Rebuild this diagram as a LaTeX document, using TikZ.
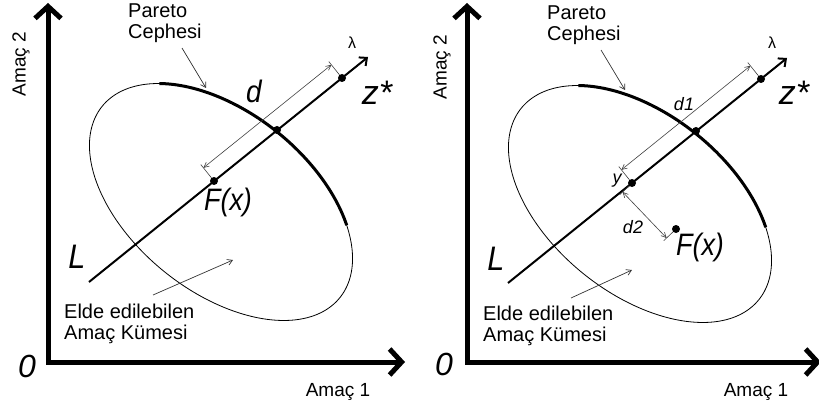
\documentclass[tikz,border=0pt]{standalone}
\usepackage{fontspec}
\usepackage{graphicx}
\setmainfont{Liberation Sans}
\usetikzlibrary{arrows.meta,calc}
\newcommand{\cond}[2]{\scalebox{#1}[1]{#2}}
\tikzset{
  axisline/.style={line width=5pt, line join=miter,
    {Straight Barb[length=12pt,width=26pt]}-{Straight Barb[length=12pt,width=26pt]}},
  lline/.style={line width=2pt, -{Straight Barb[length=6pt,width=11pt]}},
  dot/.style={circle, fill=black, inner sep=0pt, minimum size=8pt},
  small/.style={font=\fontsize{19}{21}\selectfont, align=left, inner sep=0pt},
  note/.style={font=\fontsize{20}{21}\selectfont, align=left, inner sep=0pt},
  big/.style={font=\fontsize{31}{33}\selectfont\itshape, inner sep=0pt},
  zero/.style={font=\fontsize{32}{34}\selectfont\itshape, inner sep=0pt},
  zstar/.style={font=\fontsize{34}{36}\selectfont\itshape, inner sep=0pt},
  lam/.style={font=\fontsize{16}{18}\selectfont, inner sep=0pt},
  mid/.style={font=\fontsize{18}{20}\selectfont\itshape, inner sep=0pt},
  thinarrow/.style={line width=0.7pt, black!80, -{Straight Barb[length=5pt,width=6pt]}},
  dimline/.style={line width=0.6pt, black!75, {Straight Barb[length=5pt,width=5pt]}-{Straight Barb[length=5pt,width=5pt]}},
  extline/.style={line width=0.6pt, black!75},
  ellip/.style={line width=0.8pt},
  front/.style={line width=3pt},
}
\begin{document}
\begin{tikzpicture}[x=1pt,y=-1pt,
  declare function={ex(\t)=221+152.6*cos(\t)*cos(38.8)-89.8*sin(\t)*sin(38.8);
                    ey(\t)=202+152.6*cos(\t)*sin(38.8)+89.8*sin(\t)*cos(38.8);}]
\useasboundingbox (0,0) rectangle (819,409);
% ================= LEFT PANEL =================
\begin{scope}
  \coordinate (aO) at (48,362);
  \coordinate (aY) at (48,3);
  \coordinate (aX) at (405,362);
  \draw[axisline] (aY) -- (aO) -- (aX);
  \node[small, rotate=90] (aA2) at (21,64) {Amaç 2};
  \node[zero] (a0) at (27,366) {0};
  \node[small] (aA1) at (338,392) {Amaç 1};
  % ellipse and Pareto front
  \draw[ellip] plot[domain=0:360, samples=120, smooth] ({ex(\x)},{ey(\x)}) -- cycle;
  \draw[front] plot[domain=216.7:317.5, samples=60, smooth] ({ex(\x)},{ey(\x)});
  % line L
  \coordinate (aLs) at (89,282);
  \coordinate (aLe) at (368,57);
  \draw[lline] (aLs) -- (aLe);
  \node[dot] (aF) at (214,181) {};
  \node[dot] (aI) at (277,130) {};
  \node[dot] (aZ) at (342,78) {};
  % dimension d
  \draw[extline] ($(aF)+(-2.5,-3.1)$) -- ($(aF)+(-13.2,-16.4)$);
  \draw[extline] ($(aZ)+(-2.5,-3.1)$) -- ($(aZ)+(-13.2,-16.4)$);
  \draw[dimline] ($(aF)+(-10.6,-13.2)$) -- ($(aZ)+(-10.6,-13.2)$);
  % labels
  \node[note] (aPar) at (128,23) [anchor=west] {Pareto\\Cephesi};
  \coordinate (aPs) at (182,48);
  \coordinate (aPe) at (206,88);
  \draw[thinarrow] (aPs) -- (aPe);
  \node[lam] (aLam) at (352,43) {λ};
  \node[zstar] (aZl) at (377,93) {z*};
  \node[big] (aD) at (254,91) {\cond{0.9}{d}};
  \node[big] (aFl) at (228,202) {\cond{0.87}{F(x)}};
  \node[big, font=\fontsize{34}{36}\selectfont\itshape] (aL) at (77,257) {\cond{0.9}{L}};
  \node[note, anchor=west] (aEl) at (64,323.5) {Elde edilebilen\\Amaç Kümesi};
  \coordinate (aEs) at (153,295);
  \coordinate (aEe) at (233,260);
  \draw[thinarrow] (aEs) -- (aEe);
\end{scope}
% ================= RIGHT PANEL =================
\begin{scope}[shift={(419,2)}]
  \coordinate (bO) at (48,360);
  \coordinate (bY) at (48,1);
  \coordinate (bX) at (402,360);
  \draw[axisline] (bY) -- (bO) -- (bX);
  \node[small, rotate=90] (bA2) at (23,65) {Amaç 2};
  \node[zero] (b0) at (25,362) {0};
  \node[small] (bA1) at (337,390) {Amaç 1};
  \draw[ellip] plot[domain=0:360, samples=120, smooth] ({ex(\x)},{ey(\x)}) -- cycle;
  \draw[front] plot[domain=216.7:317.5, samples=60, smooth] ({ex(\x)},{ey(\x)});
  \coordinate (bLs) at (89,281);
  \coordinate (bLe) at (368,56);
  \draw[lline] (bLs) -- (bLe);
  \node[dot] (bYp) at (213,181) {};
  \node[dot] (bI) at (277,129) {};
  \node[dot] (bZ) at (342,77) {};
  \node[dot] (bF) at (257,227) {};
  % dimension d1
  \draw[extline] ($(bYp)+(-2.5,-3.1)$) -- ($(bYp)+(-13.2,-16.4)$);
  \draw[extline] ($(bZ)+(-2.5,-3.1)$) -- ($(bZ)+(-13.2,-16.4)$);
  \draw[dimline] ($(bYp)+(-10.6,-13.2)$) -- ($(bZ)+(-10.6,-13.2)$);
  % dimension d2
  \draw[extline] ($(bYp)+(-2.9,2.8)$) -- ($(bYp)+(-12.3,11.7)$);
  \draw[extline] ($(bF)+(-2.9,2.8)$) -- ($(bF)+(-12.3,11.7)$);
  \draw[dimline] ($(bYp)+(-9.4,9.0)$) -- ($(bF)+(-9.4,9.0)$);
  % labels
  \node[note] (bPar) at (128,23) [anchor=west] {Pareto\\Cephesi};
  \coordinate (bPs) at (182,48);
  \coordinate (bPe) at (206,88);
  \draw[thinarrow] (bPs) -- (bPe);
  \node[lam] (bLam) at (353,41) {λ};
  \node[zstar] (bZl) at (375,91) {z*};
  \node[mid] (bD1) at (265,102) {d1};
  \node[mid] (bYl) at (198,179) {y};
  \node[mid] (bD2) at (214,225) {d2};
  \node[big] (bFl) at (281,245) {\cond{0.87}{F(x)}};
  \node[big, font=\fontsize{34}{36}\selectfont\itshape] (bL) at (77,257) {\cond{0.9}{L}};
  \node[note, anchor=west] (bEl) at (64,323.5) {Elde edilebilen\\Amaç Kümesi};
  \coordinate (bEs) at (152,296);
  \coordinate (bEe) at (213,268);
  \draw[thinarrow] (bEs) -- (bEe);
\end{scope}
\end{tikzpicture}
\end{document}
